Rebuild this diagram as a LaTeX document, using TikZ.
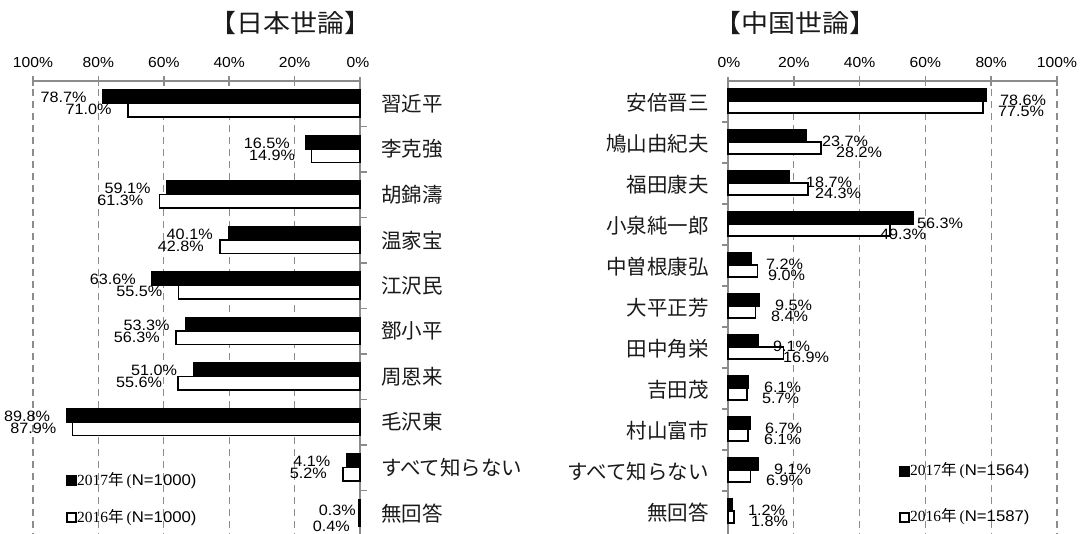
\documentclass[tikz,border=0pt]{standalone}
\usepackage{fontspec}
\setmainfont{Liberation Sans}[FakeStretch=1.08]
\newfontfamily\cjk{Noto Sans CJK JP}
\newfontfamily\cjktitle{Noto Sans CJK JP}[FakeStretch=1.08]
\newfontfamily\sernum{Liberation Serif}
\definecolor{axisgray}{HTML}{8C8C8C}
\definecolor{cattext}{HTML}{1A1A1A}
\begin{document}
\begin{tikzpicture}[x=1pt,y=-1pt,
  axisln/.style={draw=axisgray, line width=1.6pt},
  gridln/.style={draw=axisgray, line width=1.3pt, dash pattern=on 7pt off 5pt},
  barnew/.style={draw=black, fill=black, line width=1.2pt},
  barold/.style={draw=black, fill=white, line width=1.5pt},
  ticklbl/.style={font=\fontsize{14.5}{14.5}\selectfont, inner sep=0},
  vallbl/.style={font=\fontsize{15}{15}\selectfont, inner sep=0},
  catlbl/.style={font=\cjk\fontsize{20.5}{20.5}\selectfont, inner sep=0, text=cattext},
  titlelbl/.style={font=\cjktitle\fontsize{25}{25}\selectfont, inner sep=0, text=cattext},
  leglbl/.style={font=\fontsize{15.5}{15.5}\selectfont, inner sep=0, anchor=west},
  legbox/.style={draw=black, line width=1.2pt}
]
\useasboundingbox (0,0) rectangle (1080,534);
\fill[white] (0,0) rectangle (1080,534);

% titles
\node[titlelbl] (tjp) at (290,23) {【日本世論】};
\node[titlelbl] (tcn) at (795,23) {【中国世論】};

% ---------------- Left chart (Japan) ----------------
\foreach \p/\t in {20/20\%,40/40\%,60/60\%,80/80\%,100/100\%}{
  \pgfmathsetmacro\gx{360-3.27*\p}
  \draw[gridln] (\gx,89) -- (\gx,534);
  \draw[axisln] (\gx,76) -- (\gx,86);
  \node[ticklbl] at (\gx,63) {\t};
}
\node[ticklbl] (jz) at (358,63) {0\%};
\draw[axisln] (33,81) -- (360,81);
\draw[axisln] (360,77) -- (360,534);
\foreach \k in {1,...,9}{
  \pgfmathsetmacro\yb{81+45.5*\k}
  \draw[axisln] (360,\yb) -- (367,\yb);
}

\foreach \i/\nm/\a/\b in {0/習近平/78.7/71.0, 1/李克強/16.5/14.9, 2/胡錦濤/59.1/61.3,
  3/温家宝/40.1/42.8, 4/江沢民/63.6/55.5, 5/鄧小平/53.3/56.3, 6/周恩来/51.0/55.6,
  7/毛沢東/89.8/87.9, 8/すべて知らない/4.1/5.2, 9/無回答/0.3/0.4}{
  \pgfmathsetmacro\yb{81+45.5*\i}
  \pgfmathsetmacro\xa{360-3.27*\a}
  \pgfmathsetmacro\xb{360-3.27*\b}
  \draw[barnew] (360,\yb+9) rectangle (\xa,\yb+22.5);
  \draw[barold] (360,\yb+22.5) rectangle (\xb,\yb+36);
  \node[catlbl, anchor=west] (jc\i) at (381,\yb+22.75) {\nm};
}
\foreach \i/\a/\b in {0/78.7/71.0, 1/16.5/14.9, 2/59.1/61.3, 3/40.1/42.8, 4/63.6/55.5,
  5/53.3/56.3, 6/51.0/55.6, 7/89.8/87.9, 8/4.1/5.2}{
  \pgfmathsetmacro\yb{81+45.5*\i}
  \pgfmathsetmacro\xa{360-3.27*\a}
  \pgfmathsetmacro\xb{360-3.27*\b}
  \node[vallbl, anchor=east] (ja\i) at (\xa-16,\yb+16.5) {\a\%};
  \node[vallbl, anchor=east] (jb\i) at (\xb-16,\yb+28.5) {\b\%};
}
\node[vallbl, anchor=east] (ja9) at (356,510) {0.3\%};
\node[vallbl, anchor=east] (jb9) at (350,526) {0.4\%};

% legend left
\draw[legbox, fill=black] (67,476) rectangle (76,485);
\node[leglbl] (jl1) at (77,481) {{\sernum 2017}{\cjk 年}\hspace{3pt}{\sernum (}N=1000)};
\draw[legbox, fill=white] (67,513) rectangle (76,522);
\node[leglbl] (jl2) at (77,518) {{\sernum 2016}{\cjk 年}\hspace{3pt}{\sernum (}N=1000)};

% ---------------- Right chart (China) ----------------
\foreach \p/\t in {20/20\%,40/40\%,60/60\%,80/80\%,100/100\%}{
  \pgfmathsetmacro\gx{728+3.29*\p}
  \draw[gridln] (\gx,89) -- (\gx,534);
  \draw[axisln] (\gx,76) -- (\gx,86);
  \node[ticklbl] at (\gx,63) {\t};
}
\node[ticklbl] (cz) at (729,63) {0\%};
\draw[axisln] (728,81) -- (1057,81);
\draw[axisln] (728,77) -- (728,534);
\foreach \k in {1,...,10}{
  \pgfmathsetmacro\yb{81+41*\k}
  \draw[axisln] (722,\yb) -- (728,\yb);
}

\foreach \i/\nm/\a/\b/\la/\lb in {0/安倍晋三/78.6/77.5/1000/998, 1/鳩山由紀夫/23.7/28.2/822/836,
  2/福田康夫/18.7/24.3/806/815, 3/小泉純一郎/56.3/49.3/917/880, 4/中曽根康弘/7.2/9.0/766/768,
  5/大平正芳/9.5/8.4/775/771, 6/田中角栄/9.1/16.9/773/783, 7/吉田茂/6.1/5.7/764/762,
  8/村山富市/6.7/6.1/765/764, 9/すべて知らない/9.1/6.9/774/766, 10/無回答/1.2/1.8/748/751}{
  \pgfmathsetmacro\yb{81+41*\i}
  \pgfmathsetmacro\xa{728+3.29*\a}
  \pgfmathsetmacro\xb{728+3.29*\b}
  \draw[barnew] (728,\yb+8) rectangle (\xa,\yb+20);
  \draw[barold] (728,\yb+20) rectangle (\xb,\yb+32);
  \node[catlbl, anchor=east] (cc\i) at (709,\yb+21.5) {\nm};
  \node[vallbl, anchor=west] (ca\i) at (\la,\yb+19) {\a\%};
  \node[vallbl, anchor=west] (cb\i) at (\lb,\yb+30) {\b\%};
}

% legend right
\draw[legbox, fill=black] (900,467) rectangle (909,476);
\node[leglbl] (cl1) at (910,471) {{\sernum 2017}{\cjk 年}\hspace{3pt}{\sernum (}N=1564)};
\draw[legbox, fill=white] (900,513) rectangle (909,522);
\node[leglbl] (cl2) at (910,517) {{\sernum 2016}{\cjk 年}\hspace{3pt}{\sernum (}N=1587)};
\end{tikzpicture}
\end{document}
